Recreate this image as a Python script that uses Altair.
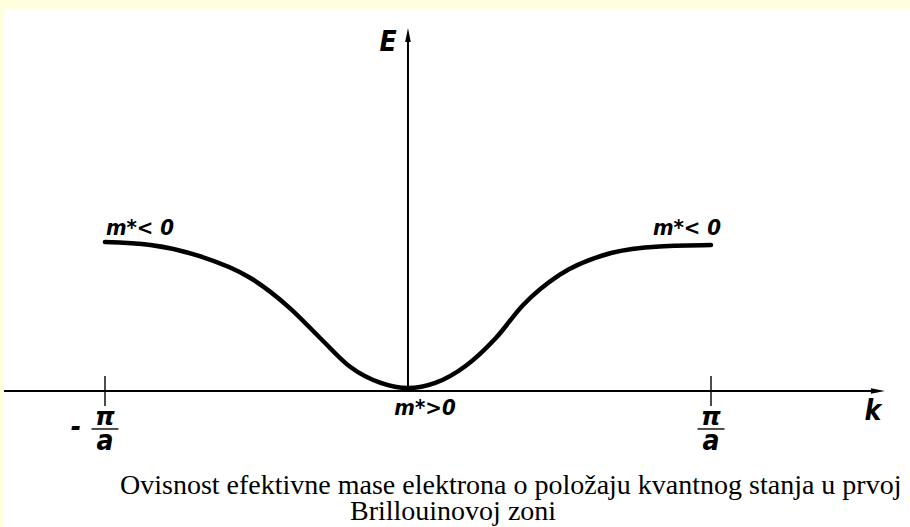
import altair as alt
import pandas as pd

# Energy band E(k) over the first Brillouin zone; k in units of pi/a, E in arbitrary units
k_vals = [-1.0, -0.85, -0.69, -0.52, -0.39, -0.29, -0.19, -0.09, 0.0,
          0.09, 0.19, 0.29, 0.38, 0.5, 0.67, 0.83, 1.0]
e_vals = [1.02, 1.0, 0.925, 0.774, 0.568, 0.363, 0.164, 0.055, 0.02,
          0.055, 0.171, 0.363, 0.589, 0.795, 0.945, 0.99, 1.0]

zone_edges = [-1.0, 1.0]
edge_numerators = ["π", "π"]
edge_denominators = ["a", "a"]

mass_labels = ["m*< 0", "m*< 0", "m*>0"]

caption_lines = ["Ovisnost efektivne mase elektrona o položaju kvantnog stanja u prvoj",
                 "Brillouinovoj zoni"]

# axis extents (data units)
K_MIN, K_MAX = -1.3333, 1.6568
E_MIN, E_MAX = -0.9315, 2.6164
K_TIP = 1.574
E_TIP = 2.486
E_BAR = -0.26

LETTER_FONT = "Liberation Sans Narrow, DejaVu Sans Condensed, Liberation Sans"
INK = "#000000"
PAPER = "#FFFFDD"

xs = alt.Scale(domain=[K_MIN, K_MAX], nice=False, zero=False)
ys = alt.Scale(domain=[E_MIN, E_MAX], nice=False, zero=False)

band = pd.DataFrame({"k": k_vals, "E": e_vals})
edges = pd.DataFrame({"k": zone_edges, "num": edge_numerators, "den": edge_denominators,
                      "E": [0.0, 0.0], "Ebar": [E_BAR, E_BAR]})


def X(field="k"):
    return alt.X(f"{field}:Q", scale=xs, axis=None)


def Y(field="E"):
    return alt.Y(f"{field}:Q", scale=ys, axis=None)


def point(k, e):
    return pd.DataFrame({"k": [k], "E": [e]})


# coordinate axes
k_axis = alt.Chart(pd.DataFrame({"k": [K_MIN], "k2": [K_TIP - 0.02], "E": [0.0]})).mark_rule(
    color=INK, strokeWidth=2
).encode(x=X(), x2="k2:Q", y=Y())

e_axis = alt.Chart(pd.DataFrame({"k": [0.0], "E": [0.0], "E2": [E_TIP - 0.05]})).mark_rule(
    color=INK, strokeWidth=2
).encode(x=X(), y=Y(), y2="E2:Q")

k_head = alt.Chart(point(K_TIP, 0.0)).mark_point(
    shape="M0,0 L-2,-0.4 L-2,0.4 Z", size=196, filled=True, color=INK, opacity=1
).encode(x=X(), y=Y())

e_head = alt.Chart(point(0.0, E_TIP)).mark_point(
    shape="M0,0 L0.4,2 L-0.4,2 Z", size=196, filled=True, color=INK, opacity=1
).encode(x=X(), y=Y())

letter_style = dict(font=LETTER_FONT, fontSize=28, fontStyle="italic", fontWeight="bold",
                    color=INK, baseline="alphabetic", align="center")

e_name = alt.Chart(point(0.0, E_TIP)).mark_text(
    dx=-20, dy=23, **letter_style
).encode(x=X(), y=Y(), text=alt.value("E"))

k_name = alt.Chart(point(K_TIP, 0.0)).mark_text(
    dx=-12, dy=29, **letter_style
).encode(x=X(), y=Y(), text=alt.value("k"))

# zone-edge ticks and their fraction labels
edge_ticks = alt.Chart(edges).mark_tick(
    orient="vertical", size=30, thickness=2, color=INK
).encode(x=X(), y=Y())

num_text = alt.Chart(edges).mark_text(
    font="DejaVu Sans", fontSize=25, fontStyle="italic", fontWeight="bold", color=INK,
    baseline="alphabetic", align="center", dy=34
).encode(x=X(), y=Y(), text="num:N")

den_text = alt.Chart(edges).mark_text(
    dy=59, **letter_style
).encode(x=X(), y=Y(), text="den:N")

bars = alt.Chart(edges).mark_tick(
    orient="horizontal", size=27, thickness=2, color=INK
).encode(x=X(), y=Y("Ebar"))

minus = alt.Chart(edges.iloc[[0]]).mark_text(
    dx=-29, dy=45, **letter_style
).encode(x=X(), y=Y(), text=alt.value("-"))

# band curve
curve = alt.Chart(band).mark_line(
    color=INK, strokeWidth=4.5, interpolate="monotone", strokeCap="round"
).encode(x=X(), y=Y())

# effective-mass labels anchored at the band ends and the band minimum
mass_style = dict(font=LETTER_FONT, fontSize=22, fontStyle="italic", fontWeight="bold",
                  color=INK, baseline="alphabetic", align="center")
mass_left = alt.Chart(point(k_vals[0], e_vals[0])).mark_text(
    dx=35, dy=-7, **mass_style
).encode(x=X(), y=Y(), text=alt.value(mass_labels[0]))
mass_right = alt.Chart(point(k_vals[-1], e_vals[-1])).mark_text(
    dx=-24, dy=-10, **mass_style
).encode(x=X(), y=Y(), text=alt.value(mass_labels[1]))
mass_min = alt.Chart(point(0.0, 0.0)).mark_text(
    dx=17, dy=24, **mass_style
).encode(x=X(), y=Y(), text=alt.value(mass_labels[2]))

caption_style = dict(font="Liberation Serif", fontSize=28, color=INK,
                     align="left", baseline="alphabetic")
caption1 = alt.Chart(pd.DataFrame({"t": [caption_lines[0]]})).mark_text(
    **caption_style
).encode(x=alt.value(116), y=alt.value(485), text="t:N")
caption2 = alt.Chart(pd.DataFrame({"t": [caption_lines[1]]})).mark_text(
    **caption_style
).encode(x=alt.value(346), y=alt.value(511), text="t:N")

chart = alt.layer(
    k_axis, e_axis, k_head, e_head, e_name, k_name, edge_ticks, bars, num_text, den_text,
    minus, curve, mass_left, mass_right, mass_min, caption1, caption2
).properties(
    width=906, height=518,
    autosize=alt.AutoSizeParams(type="none"),
    padding={"left": 4, "top": 9, "right": 0, "bottom": 0},
).configure(background=PAPER).configure_view(stroke=None, fill="white")

chart.save("out.html", embed_options={"renderer": "svg", "actions": False})
